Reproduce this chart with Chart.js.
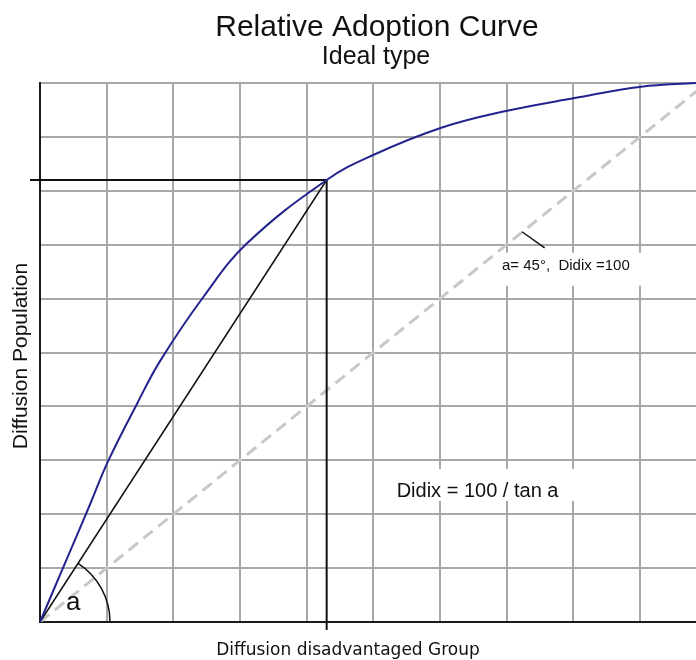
<!DOCTYPE html>
<html>
<head>
<meta charset="utf-8">
<script src="https://cdn.jsdelivr.net/npm/chart.js@4.4.1/dist/chart.umd.min.js"></script>
<style>
  body { margin: 0; background: #fff; }
  #wrap { width: 696px; height: 660px; position: relative; overflow: hidden; }
</style>
</head>
<body>
<div id="wrap"><canvas id="myChart"></canvas></div>
<script>
// adoption curve (x = diffusion disadvantaged group, y = diffusion population)
var adoptX = [0, 3.5, 7.5, 10.2, 14.6, 18.0, 24.5, 31.1, 43.0, 49.9, 60.2, 69.9, 80.2, 90.2, 98.4];
var adoptY = [0, 10.2, 21.8, 29.8, 40.6, 48.4, 60.3, 70.3, 82.0, 86.6, 91.7, 94.8, 97.2, 99.3, 100];
// chord from origin to the marked point
var chordX = [0, 43];
var chordY = [0, 82];
// guide lines to the axes
var guideHX = [-1.5, 43];
var guideHY = [82, 82];
var guideVX = [43, 43];
var guideVY = [82, -1.5];
// 45 degree reference line
var diagX = [0, 100];
var diagY = [0, 100];
// little pointer to the 45 degree label
var pointerX = [72.3, 75.7];
var pointerY = [72.4, 69.4];
var gridTicks = [0, 10, 20, 30, 40, 50, 60, 70, 80, 90, 100];

function pts(xs, ys){
    return xs.map(function(x, i){ return {x: x, y: ys[i]}; });
}

function line(data, color, width, extra){
    var ds = {
        data: data,
        borderColor: color,
        borderWidth: width,
        pointRadius: 0,
        fill: false,
        tension: 0,
        clip: false
    };
    for (var k in extra) ds[k] = extra[k];
    return ds;
}

var textPlugin = {
    id: 'texts',
    beforeDatasetsDraw: function(chart){
        var c = chart.ctx, xs = chart.scales.x, ys = chart.scales.y;
        c.save();
        // white boxes behind the notes
        c.fillStyle = '#fff';
        c.fillRect(xs.getPixelForValue(52.3), ys.getPixelForValue(28.4), 192, 32);
        c.fillRect(xs.getPixelForValue(68.8), ys.getPixelForValue(68.5), 145, 33);
        c.fillStyle = '#111';
        c.textAlign = 'left';
        c.textBaseline = 'alphabetic';
        c.font = '20px "Liberation Sans", Arial, sans-serif';
        c.fillText('Didix = 100 / tan a', xs.getPixelForValue(53.5), ys.getPixelForValue(23.2));
        c.font = '15px "Liberation Sans", Arial, sans-serif';
        c.fillText('a= 45°,  Didix =100', xs.getPixelForValue(69.3), ys.getPixelForValue(65.3));
        c.restore();
    },
    afterDraw: function(chart){
        var c = chart.ctx, xs = chart.scales.x, ys = chart.scales.y;
        c.save();
        // angle arc
        var cx = xs.getPixelForValue(0), cy = ys.getPixelForValue(0);
        var dx = xs.getPixelForValue(chordX[1]) - cx;
        var dy = cy - ys.getPixelForValue(chordY[1]);
        var r = xs.getPixelForValue(10.5) - cx;
        c.strokeStyle = '#111';
        c.lineWidth = 1.5;
        c.beginPath();
        c.arc(cx, cy, r, -Math.atan2(dy, dx), 0, false);
        c.stroke();
        c.fillStyle = '#111';
        c.font = '26px "Liberation Sans", Arial, sans-serif';
        c.textAlign = 'left';
        c.fillText('a', xs.getPixelForValue(3.9), ys.getPixelForValue(2.2));
        // titles
        c.textAlign = 'center';
        c.font = '30px "Liberation Sans", Arial, sans-serif';
        c.fillText('Relative Adoption Curve', 377, 36);
        c.font = '25px "Liberation Sans", Arial, sans-serif';
        c.fillText('Ideal type', 376, 64);
        // axis titles
        c.font = '17px "DejaVu Sans", sans-serif';
        c.fillText('Diffusion disadvantaged Group', 348, 655);
        c.translate(21, 356);
        c.rotate(-Math.PI / 2);
        c.textBaseline = 'middle';
        c.font = '21px "Liberation Sans", Arial, sans-serif';
        c.fillText('Diffusion Population', 0, 0);
        c.restore();
    }
};

var ctx = document.getElementById('myChart').getContext('2d');
var myChart = new Chart(ctx, {
    type: 'line',
    data: {
        datasets: [
            line(pts(adoptX, adoptY), '#23238e', 2, {tension: 0.4, clip: 2}),
            line(pts(chordX, chordY), '#111', 1.5),
            line(pts(guideHX, guideHY), '#111', 2),
            line(pts(guideVX, guideVY), '#111', 2),
            line(pts(pointerX, pointerY), '#111', 1.5),
            line(pts(diagX, diagY), '#c8c8c8', 3, {borderDash: [12, 7], clip: 0})
        ]
    },
    options: {
        responsive: true,
        maintainAspectRatio: false,
        animation: false,
        events: [],
        layout: { padding: { left: 40, right: 0, top: 83, bottom: 38 } },
        plugins: { legend: { display: false }, tooltip: { enabled: false } },
        scales: {
            x: {
                type: 'linear',
                min: 0,
                max: 98.4,
                afterBuildTicks: function(axis){
                    axis.ticks = gridTicks.filter(function(v){ return v <= axis.max; }).map(function(v){ return {value: v}; });
                },
                ticks: { display: false },
                grid: { color: '#a8a8a8', lineWidth: 2, drawTicks: false },
                border: { color: '#1a1a1a', width: 2 }
            },
            y: {
                type: 'linear',
                min: 0,
                max: 100,
                afterBuildTicks: function(axis){
                    axis.ticks = gridTicks.map(function(v){ return {value: v}; });
                },
                ticks: { display: false },
                grid: { color: '#a8a8a8', lineWidth: 2, drawTicks: false },
                border: { color: '#1a1a1a', width: 2 }
            }
        }
    },
    plugins: [textPlugin]
});
</script>
</body>
</html>
